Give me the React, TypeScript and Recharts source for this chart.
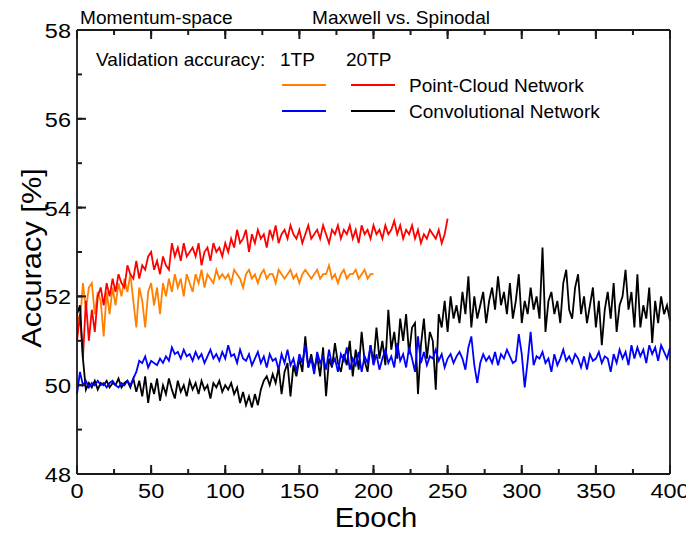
import { LineChart, Line, XAxis, YAxis } from 'recharts';

// sampled every 2 epochs
const STEP = 2;

// Point-Cloud Network, 1TP (epochs 0-200)
const pcn1tp = [
  51.6, 51.4, 52.3, 51.7, 52.2, 52.3, 51.6, 52.1, 51.9, 51.1,
  52.1, 51.6, 52.2, 51.8, 52.3, 52.0, 52.4, 52.1, 52.5, 51.9,
  51.3, 52.2, 51.9, 51.3, 52.1, 52.3, 51.8, 52.2, 51.6, 52.3,
  52.0, 52.4, 52.1, 52.5, 52.2, 52.4, 52.0, 52.5, 52.3, 52.1,
  52.5, 52.3, 52.6, 52.2, 52.5, 52.4, 52.3, 52.6, 52.4, 52.5,
  52.4, 52.5, 52.3, 52.6, 52.5, 52.4, 52.2, 52.5, 52.6, 52.4,
  52.5, 52.3, 52.5, 52.6, 52.4, 52.5, 52.5, 52.3, 52.6, 52.5,
  52.4, 52.5, 52.6, 52.4, 52.5, 52.3, 52.5, 52.6, 52.5, 52.4,
  52.5, 52.6, 52.4, 52.5, 52.5, 52.7, 52.4, 52.5, 52.3, 52.5,
  52.6, 52.4, 52.5, 52.5, 52.6, 52.4, 52.5, 52.6, 52.4, 52.5,
  52.5,
];

// Point-Cloud Network, 20TP (epochs 0-250)
const pcn20tp = [
  51.0, 51.6, 50.6, 51.9, 51.0, 51.7, 51.2, 52.0, 52.2, 51.8,
  52.3, 52.0, 52.4, 52.1, 52.5, 52.3, 52.2, 52.7, 52.5, 52.4,
  52.8, 52.4, 52.7, 52.6, 52.9, 53.0, 52.6, 52.8, 52.5, 52.9,
  52.7, 52.6, 53.2, 52.9, 53.1, 52.8, 53.2, 52.9, 53.0, 53.1,
  52.9, 53.2, 52.7, 53.0, 53.1, 52.8, 53.2, 53.0, 53.1, 52.9,
  53.2, 53.0, 53.3, 53.1, 53.5, 53.2, 53.3, 53.5, 53.0, 53.4,
  53.2, 53.5, 53.3, 53.4, 53.1, 53.5, 53.3, 53.6, 53.2, 53.4,
  53.5, 53.3, 53.6, 53.4, 53.3, 53.5, 53.2, 53.4, 53.6, 53.3,
  53.4, 53.5, 53.3, 53.6, 53.4, 53.2, 53.5, 53.4, 53.6, 53.3,
  53.5, 53.4, 53.6, 53.3, 53.5, 53.2, 53.6, 53.4, 53.5, 53.3,
  53.6, 53.4, 53.5, 53.3, 53.6, 53.4, 53.5, 53.7, 53.4, 53.6,
  53.3, 53.5, 53.4, 53.6, 53.3, 53.5, 53.2, 53.4, 53.3, 53.5,
  53.4, 53.3, 53.5, 53.2, 53.4, 53.75,
];

// Convolutional Network, 1TP (epochs 0-400)
const conv1tp = [
  49.8, 50.3, 50.0, 50.1, 49.95, 50.05, 50.0, 50.1, 50.0, 50.05,
  49.95, 50.05, 50.1, 50.0, 49.95, 50.05, 50.0, 50.1, 50.0, 50.15,
  50.3, 50.55, 50.5, 50.65, 50.4, 50.55, 50.5, 50.45, 50.6, 50.5,
  50.65, 50.55, 50.85, 50.7, 50.75, 50.6, 50.8, 50.65, 50.7, 50.55,
  50.75, 50.6, 50.7, 50.5, 50.65, 50.8, 50.6, 50.7, 50.55, 50.75,
  50.6, 50.9, 50.65, 50.7, 50.5, 50.8, 50.6, 50.55, 50.7, 50.45,
  50.6, 50.75, 50.5, 50.65, 50.4, 50.7, 50.55, 50.6, 50.35, 50.7,
  50.5, 50.8, 50.45, 50.6, 50.3, 50.7, 50.5, 50.9, 50.4, 50.6,
  50.25, 50.75, 50.5, 50.65, 50.35, 50.8, 50.45, 50.6, 50.3, 50.7,
  50.55, 50.85, 50.35, 50.6, 50.45, 50.75, 50.3, 50.65, 50.5, 50.9,
  50.45, 50.7, 50.35, 50.6, 50.8, 50.5, 50.65, 50.4, 50.95, 50.55,
  50.7, 50.4, 50.85, 50.6, 50.3, 51.1, 50.5, 50.75, 50.45, 50.65,
  50.6, 50.8, 50.55, 50.7, 50.4, 50.6, 50.7, 50.5, 50.65, 50.75,
  50.6, 50.35, 50.85, 51.1, 50.45, 50.05, 50.5, 50.7, 50.55, 50.65,
  50.5, 50.75, 50.45, 50.7, 50.6, 50.8, 50.65, 50.5, 50.55, 51.15,
  50.7, 49.95, 50.55, 51.2, 50.45, 50.65, 50.6, 50.75, 50.5, 50.6,
  50.3, 50.7, 50.45, 50.6, 50.8, 50.55, 50.65, 50.5, 50.7, 50.6,
  50.4, 50.65, 50.35, 50.7, 50.55, 50.6, 50.75, 50.5, 50.65, 50.6,
  50.3, 50.7, 50.5, 50.8, 50.6, 50.75, 50.45, 50.9, 50.6, 50.85,
  50.65, 50.8, 50.5, 50.9, 50.7, 50.85, 50.55, 50.9, 50.75, 50.6,
  50.85,
];

// Convolutional Network, 20TP (epochs 0-400)
const conv20tp = [
  51.6, 51.8, 50.6, 49.9, 50.05, 49.95, 50.1, 49.9, 50.05, 50.0,
  50.1, 49.95, 50.05, 50.0, 50.15, 49.95, 50.05, 50.1, 49.95, 50.15,
  49.85, 50.1, 49.75, 50.2, 49.6, 50.05, 49.8, 50.15, 49.65, 50.0,
  49.8, 50.15, 49.9, 49.7, 50.1, 49.85, 50.0, 49.75, 50.1, 49.9,
  50.05, 49.8, 50.1, 49.9, 50.0, 49.7, 50.05, 49.95, 50.1, 49.85,
  50.0, 49.9, 50.05, 49.8, 49.95, 49.6, 49.85, 49.55, 49.75, 49.5,
  49.8, 49.55, 49.9, 50.1, 50.2, 50.0, 50.25, 50.05, 50.4, 49.8,
  50.3, 50.5, 49.75, 50.45, 50.2, 50.6, 50.3, 51.1, 50.4, 50.7,
  50.35, 50.65, 50.2, 50.85, 49.75, 50.6, 50.4, 50.95, 50.5, 50.3,
  50.7, 50.45, 51.0, 50.2, 50.8, 50.35, 51.2, 50.55, 50.3, 50.9,
  50.5, 51.3, 50.6, 51.0, 50.45, 51.7, 50.8, 51.2, 50.6, 51.5,
  51.0, 51.6, 50.7, 51.3, 51.4, 49.8, 50.9, 51.5, 50.6, 51.2,
  51.0, 49.9, 51.6, 51.3, 51.9, 51.2, 52.0, 51.5, 51.8, 51.4,
  52.1, 51.6, 52.45, 51.3, 52.0, 51.5, 51.8, 52.1, 51.4, 51.9,
  52.2, 51.7, 52.45, 51.8, 52.1, 51.6, 52.3, 51.5, 51.9, 52.5,
  51.4, 51.9, 51.6, 52.2, 51.7, 52.0, 51.5, 53.1, 51.2, 51.9,
  52.1, 51.6, 51.9, 51.4, 52.3, 52.6, 51.7, 51.5, 52.2, 52.5,
  51.6, 52.0, 51.4, 51.8, 52.2, 51.3, 51.9, 50.9, 51.7, 52.1,
  51.5, 52.3, 51.2, 51.8, 52.0, 52.6, 51.7, 52.1, 51.3, 52.5,
  51.3, 51.8, 51.5, 52.2, 50.95, 51.9, 51.4, 52.0, 51.6, 51.8,
  51.45,
];

const epochTicks = [0, 25, 50, 75, 100, 125, 150, 175, 200, 225, 250, 275, 300, 325, 350, 375, 400];
const accTicks = [48, 49, 50, 51, 52, 53, 54, 55, 56, 57, 58];

const rows = conv20tp.map((_, i) => ({
  epoch: i * STEP,
  pcn1tp: pcn1tp[i] ?? null,
  pcn20tp: pcn20tp[i] ?? null,
  conv1tp: conv1tp[i] ?? null,
  conv20tp: conv20tp[i] ?? null,
}));

const FONT = '"Liberation Sans", Arial, sans-serif';
const SX = 1.09; // the original lettering is a bit wide
const AXIS = { stroke: '#1a1a1a', strokeWidth: 1.8 };
const TICKLINE = { stroke: '#1a1a1a', strokeWidth: 2 };
const MAJOR = 9;
const MINOR = 5;

function T({ x, y, size, anchor = 'start', rotate = 0, sx = SX, children }: any) {
  const rot = rotate ? ` rotate(${rotate})` : '';
  return (
    <text
      transform={`translate(${x} ${y})${rot} scale(${sx} 1)`}
      fontSize={size}
      fontFamily={FONT}
      textAnchor={anchor}
      fill="#000"
    >
      {children}
    </text>
  );
}

// native tick line gives the short (minor) tick; majors get an extension plus label
function XTick({ x, y, payload, orientation }: any) {
  const major = payload.value % 50 === 0;
  const dir = orientation === 'top' ? 1 : -1;
  return (
    <g>
      {major && <line x1={x} x2={x} y1={y} y2={y + dir * MAJOR} {...TICKLINE} />}
      {major && orientation !== 'top' && (
        <T x={x} y={y + 24} size={21} anchor="middle" sx={1.12}>{payload.value}</T>
      )}
    </g>
  );
}

function YTick({ x, y, payload, orientation }: any) {
  const major = payload.value % 2 === 0;
  const dir = orientation === 'right' ? -1 : 1;
  return (
    <g>
      {major && <line x1={x} x2={x + dir * MAJOR} y1={y} y2={y} {...TICKLINE} />}
      {major && orientation !== 'right' && (
        <T x={x - 6} y={y + 8} size={21} anchor="end" sx={1.12}>{payload.value}</T>
      )}
    </g>
  );
}

const tickBits = {
  interval: 0 as const,
  tickSize: -MINOR,
  tickMargin: MINOR,
  tickLine: TICKLINE,
  axisLine: AXIS,
};

const legend = [
  { y: 85, left: '#FF8000', right: '#FF0000', label: 'Point-Cloud Network' },
  { y: 111, left: '#0000FF', right: '#000000', label: 'Convolutional Network' },
];

export default function App() {
  return (
    <div style={{ position: 'relative', width: 694, height: 535, margin: -8, background: '#fff' }}>
      <LineChart
        width={694}
        height={535}
        data={rows}
        margin={{ top: 29, right: 23, bottom: 0, left: 0 }}
      >
        <XAxis
          dataKey="epoch"
          type="number"
          domain={[0, 400]}
          ticks={epochTicks}
          height={61}
          tick={<XTick />}
          {...tickBits}
        />
        <XAxis
          xAxisId="top"
          orientation="top"
          dataKey="epoch"
          type="number"
          domain={[0, 400]}
          ticks={epochTicks}
          height={1}
          tick={<XTick />}
          {...tickBits}
        />
        <YAxis
          type="number"
          domain={[48, 58]}
          ticks={accTicks}
          width={77}
          tick={<YTick />}
          {...tickBits}
        />
        <YAxis
          yAxisId="right"
          orientation="right"
          type="number"
          domain={[48, 58]}
          ticks={accTicks}
          width={1}
          tick={<YTick />}
          {...tickBits}
        />
        <Line dataKey="pcn1tp" stroke="#FF8000" strokeWidth={1.8} dot={false} isAnimationActive={false} />
        <Line dataKey="pcn20tp" stroke="#FF0000" strokeWidth={1.8} dot={false} isAnimationActive={false} />
        <Line dataKey="conv20tp" stroke="#000000" strokeWidth={1.8} dot={false} isAnimationActive={false} />
        <Line dataKey="conv1tp" stroke="#0000FF" strokeWidth={1.8} dot={false} isAnimationActive={false} />
      </LineChart>
      <svg
        width={694}
        height={535}
        style={{ position: 'absolute', left: 0, top: 0, pointerEvents: 'none' }}
      >
        <T x={80} y={24} size={17.5}>Momentum-space</T>
        <T x={312} y={24} size={17.5}>Maxwell vs. Spinodal</T>
        <T x={96} y={66} size={17.5}>Validation accuracy:</T>
        <T x={280} y={66} size={17.5}>1TP</T>
        <T x={346} y={66} size={17.5}>20TP</T>
        {legend.map((l) => (
          <g key={l.label}>
            <line x1={282} x2={326} y1={l.y} y2={l.y} stroke={l.left} strokeWidth={2} />
            <line x1={351} x2={395} y1={l.y} y2={l.y} stroke={l.right} strokeWidth={2} />
            <T x={409} y={l.y + 7} size={17.5}>{l.label}</T>
          </g>
        ))}
        <T x={376} y={527} size={27} anchor="middle" sx={1.08}>Epoch</T>
        <T x={41} y={258} size={28} anchor="middle" rotate={-90} sx={1.1}>Accuracy [%]</T>
      </svg>
    </div>
  );
}
